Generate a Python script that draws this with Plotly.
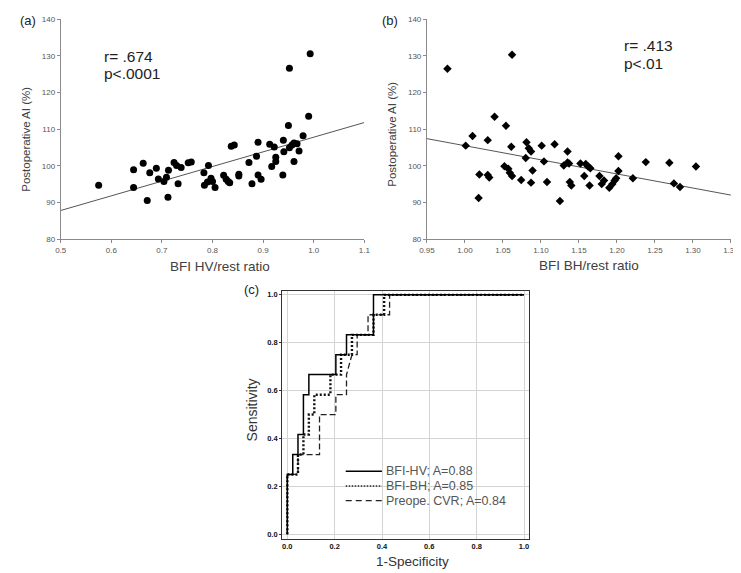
import plotly.graph_objects as go

W, H = 741, 573

# ---------------- data: panel (a) ----------------
hv_ratio = [0.575,0.644,0.644,0.663,0.671,0.676,0.689,0.693,0.704,0.709,
            0.713,0.712,0.724,0.729,0.732,0.738,0.752,0.758,0.783,0.792,
            0.784,0.790,0.797,0.800,0.805,0.822,0.827,0.831,0.834,0.837,
            0.843,0.852,0.852,0.872,0.878,0.887,0.890,0.890,0.896,0.913,
            0.917,0.922,0.925,0.925,0.939,0.940,0.941,0.950,0.952,0.952,
            0.957,0.961,0.961,0.967,0.971,0.979,0.990,0.993]
hv_ai = [94.7,98.9,94.1,100.7,90.5,98.1,99.3,96.4,95.7,96.9,
         98.8,91.4,100.9,100.1,95.1,99.5,100.8,101.0,98.1,100.1,
         94.7,95.6,96.6,95.7,94.1,97.4,96.3,95.7,95.4,105.3,
         105.7,97.7,97.2,100.9,95.1,102.6,106.4,97.5,96.3,105.9,
         99.8,105.1,102.3,101.2,97.5,107.0,103.8,111.0,126.6,104.9,
         105.7,106.2,101.2,106.0,104.0,108.2,113.5,130.6]
fit_a_x = [0.5, 1.1]
fit_a_y = [87.8, 111.8]

# ---------------- data: panel (b) ----------------
bh_ratio = [0.977,1.062,1.039,1.054,1.010,1.001,1.030,1.061,1.081,1.084,
            1.087,1.080,1.101,1.118,1.135,1.104,1.130,1.135,1.137,1.052,
            1.057,1.059,1.062,1.019,1.030,1.032,1.089,1.074,1.087,1.108,
            1.018,1.125,1.152,1.159,1.162,1.165,1.138,1.140,1.157,1.164,
            1.177,1.180,1.183,1.190,1.194,1.197,1.199,1.202,1.202,1.221,
            1.238,1.269,1.275,1.283,1.304]
bh_ai = [126.5,130.3,113.4,110.9,108.1,105.5,107.0,105.2,106.4,104.8,
         103.9,102.1,105.5,105.9,103.9,101.2,100.1,100.9,100.6,99.9,
         99.2,98.1,97.2,97.6,97.5,96.8,98.7,96.1,95.4,95.6,
         91.2,90.4,100.6,100.5,99.8,99.3,95.6,94.6,97.2,94.6,
         97.2,95.0,96.0,94.0,95.0,96.0,96.6,102.6,98.6,96.6,
         101.0,100.8,95.2,94.2,99.8]
fit_b_x = [0.95, 1.35]
fit_b_y = [107.4, 92.0]

# ---------------- data: panel (c) ROC ----------------
roc_hv_fpr = [0,0,0.023,0.023,0.045,0.045,0.068,0.068,0.091,0.091,0.205,0.205,
              0.25,0.25,0.364,0.364,1.0]
roc_hv_tpr = [0,0.25,0.25,0.333,0.333,0.417,0.417,0.583,0.583,0.667,0.667,0.75,
              0.75,0.833,0.833,1.0,1.0]
roc_bh_fpr = [0,0,0.045,0.045,0.068,0.068,0.091,0.091,0.114,0.114,0.182,0.182,
              0.227,0.227,0.273,0.273,0.364,0.364,0.409,0.409,1.0]
roc_bh_tpr = [0,0.25,0.25,0.333,0.333,0.417,0.417,0.5,0.5,0.583,0.583,0.667,
              0.667,0.75,0.75,0.833,0.833,0.917,0.917,1.0,1.0]
roc_cvr_fpr = [0,0,0.045,0.045,0.136,0.136,0.205,0.205,0.25,0.25,0.273,0.295,
               0.295,0.341,0.341,0.432,0.432,1.0]
roc_cvr_tpr = [0,0.25,0.25,0.333,0.333,0.5,0.5,0.583,0.583,0.667,0.75,0.75,
               0.833,0.833,0.917,0.917,1.0,1.0]
roc_labels = ["BFI-HV; A=0.88", "BFI-BH; A=0.85", "Preope. CVR; A=0.84"]

tick_a = [0.5, 0.6, 0.7, 0.8, 0.9, 1.0, 1.1]
tick_b = [0.95, 1.00, 1.05, 1.10, 1.15, 1.20, 1.25, 1.30, 1.35]
tick_y = [80, 90, 100, 110, 120, 130, 140]
tick_c = [0.0, 0.2, 0.4, 0.6, 0.8, 1.0]

FONT = "Liberation Sans, Arial, sans-serif"

def px(x):
    return x / W

def py(y):
    return 1 - y / H

fig = go.Figure()

fig.add_trace(go.Scatter(x=fit_a_x, y=fit_a_y, mode="lines",
                         line=dict(color="#555555", width=1),
                         xaxis="x", yaxis="y", showlegend=False))
fig.add_trace(go.Scatter(x=hv_ratio, y=hv_ai, mode="markers",
                         marker=dict(symbol="circle", size=7, color="black"),
                         xaxis="x", yaxis="y", showlegend=False))
fig.add_trace(go.Scatter(x=fit_b_x, y=fit_b_y, mode="lines",
                         line=dict(color="#555555", width=1),
                         xaxis="x2", yaxis="y2", showlegend=False))
fig.add_trace(go.Scatter(x=bh_ratio, y=bh_ai, mode="markers",
                         marker=dict(symbol="diamond", size=6.5, color="black"),
                         xaxis="x2", yaxis="y2", showlegend=False))

fig.add_trace(go.Scatter(x=roc_cvr_fpr, y=roc_cvr_tpr, mode="lines",
                         line=dict(color="#222222", width=1.3, dash="6px,3px"),
                         xaxis="x3", yaxis="y3", showlegend=False))
fig.add_trace(go.Scatter(x=roc_bh_fpr, y=roc_bh_tpr, mode="lines",
                         line=dict(color="#111111", width=2.4, dash="2px,2px"),
                         xaxis="x3", yaxis="y3", showlegend=False))
fig.add_trace(go.Scatter(x=roc_hv_fpr, y=roc_hv_tpr, mode="lines",
                         line=dict(color="#000000", width=1.5),
                         xaxis="x3", yaxis="y3", showlegend=False))

ab_axis = dict(showline=True, linecolor="#8a8a8a", linewidth=1, ticks="outside",
               ticklen=3, tickcolor="#8a8a8a", showgrid=False, zeroline=False,
               tickfont=dict(family=FONT, size=8, color="#555555"))
c_common = dict(showline=True, mirror=True, linecolor="#333333", linewidth=1,
                tickcolor="#333333", showgrid=True,
                gridcolor="#d4d4d4", gridwidth=1, zeroline=False,
                tickfont=dict(family=FONT, size=7.5, color="#111111", weight="bold"))

fig.update_layout(
    width=W, height=H, margin=dict(l=0, r=0, t=0, b=0),
    paper_bgcolor="white", plot_bgcolor="white",
    xaxis=dict(domain=[px(45.7), px(356)], range=[0.5, 1.1], tickvals=tick_a,
               tickformat=".1f", anchor="y", **ab_axis),
    yaxis=dict(domain=[py(230.7), py(7.3)], range=[80, 140], tickvals=tick_y,
               anchor="x", **ab_axis),
    xaxis2=dict(domain=[px(420), px(730.7)], range=[0.95, 1.35], tickvals=tick_b,
                tickformat=".2f", anchor="y2", **ab_axis),
    yaxis2=dict(domain=[py(230.7), py(7.3)], range=[80, 140], tickvals=tick_y,
                anchor="x2", **ab_axis),
    xaxis3=dict(domain=[px(272), px(524.3)], range=[-0.022, 1.021], tickvals=tick_c,
                tickformat=".1f", anchor="y3", ticks="", **c_common),
    yaxis3=dict(domain=[py(535), py(283)], range=[-0.018, 1.018], tickvals=tick_c,
                tickformat=".1f", anchor="x3", ticks="outside", ticklen=2,
                **c_common),
)

ann = []
def text(x, y, s, size, color="#333333", xanchor="center", angle=0):
    ann.append(dict(x=px(x), y=py(y), xref="paper", yref="paper", text=s,
                    showarrow=False, xanchor=xanchor, yanchor="middle",
                    textangle=angle, font=dict(family=FONT, size=size, color=color)))

# panel labels
text(2, 9, "(a)", 13, "#222222", "left")
text(372, 9, "(b)", 13, "#222222", "left")
text(231, 282, "(c)", 13, "#222222", "left")
# axis titles
text(10, 129, "Postoperative AI (%)", 11.5, "#404040", angle=-90)
text(208.5, 259, "BFI HV/rest ratio", 13.5, "#404040")
text(384, 124, "Postoperative AI (%)", 11.5, "#404040", angle=-90)
text(586, 258, "BFI BH/rest ratio", 13.5, "#404040")
text(241, 404, "Sensitivity", 14, "#333333", angle=-90)
text(405, 558, "1-Specificity", 13.5, "#333333")
# statistics
text(88, 45, "r= .674", 15.5, "#222222", "left")
text(88, 62, "p<.0001", 15.5, "#222222", "left")
text(619, 34, "r= .413", 15.5, "#222222", "left")
text(619, 52, "p<.01", 15.5, "#222222", "left")

# custom legend for panel (c)
shapes = [dict(type="rect", xref="paper", yref="paper", layer="between",
               x0=px(333), x1=px(517), y0=py(504), y1=py(457),
               fillcolor="white", line=dict(width=0))]
leg_rows = [466.5, 481.5, 496.5]
leg_styles = [dict(color="#000000", width=1.5, dash="solid"),
              dict(color="#222222", width=1.4, dash="1.5px,1.5px"),
              dict(color="#222222", width=1.3, dash="6px,4px")]
for yy, st, lab in zip(leg_rows, leg_styles, roc_labels):
    shapes.append(dict(type="line", xref="paper", yref="paper", layer="above",
                       x0=px(337), x1=px(374), y0=py(yy), y1=py(yy), line=st))
    text(376.5, yy, lab, 12.5, "#555555", "left")

fig.update_layout(annotations=ann, shapes=shapes)

fig.write_html("out.html")
